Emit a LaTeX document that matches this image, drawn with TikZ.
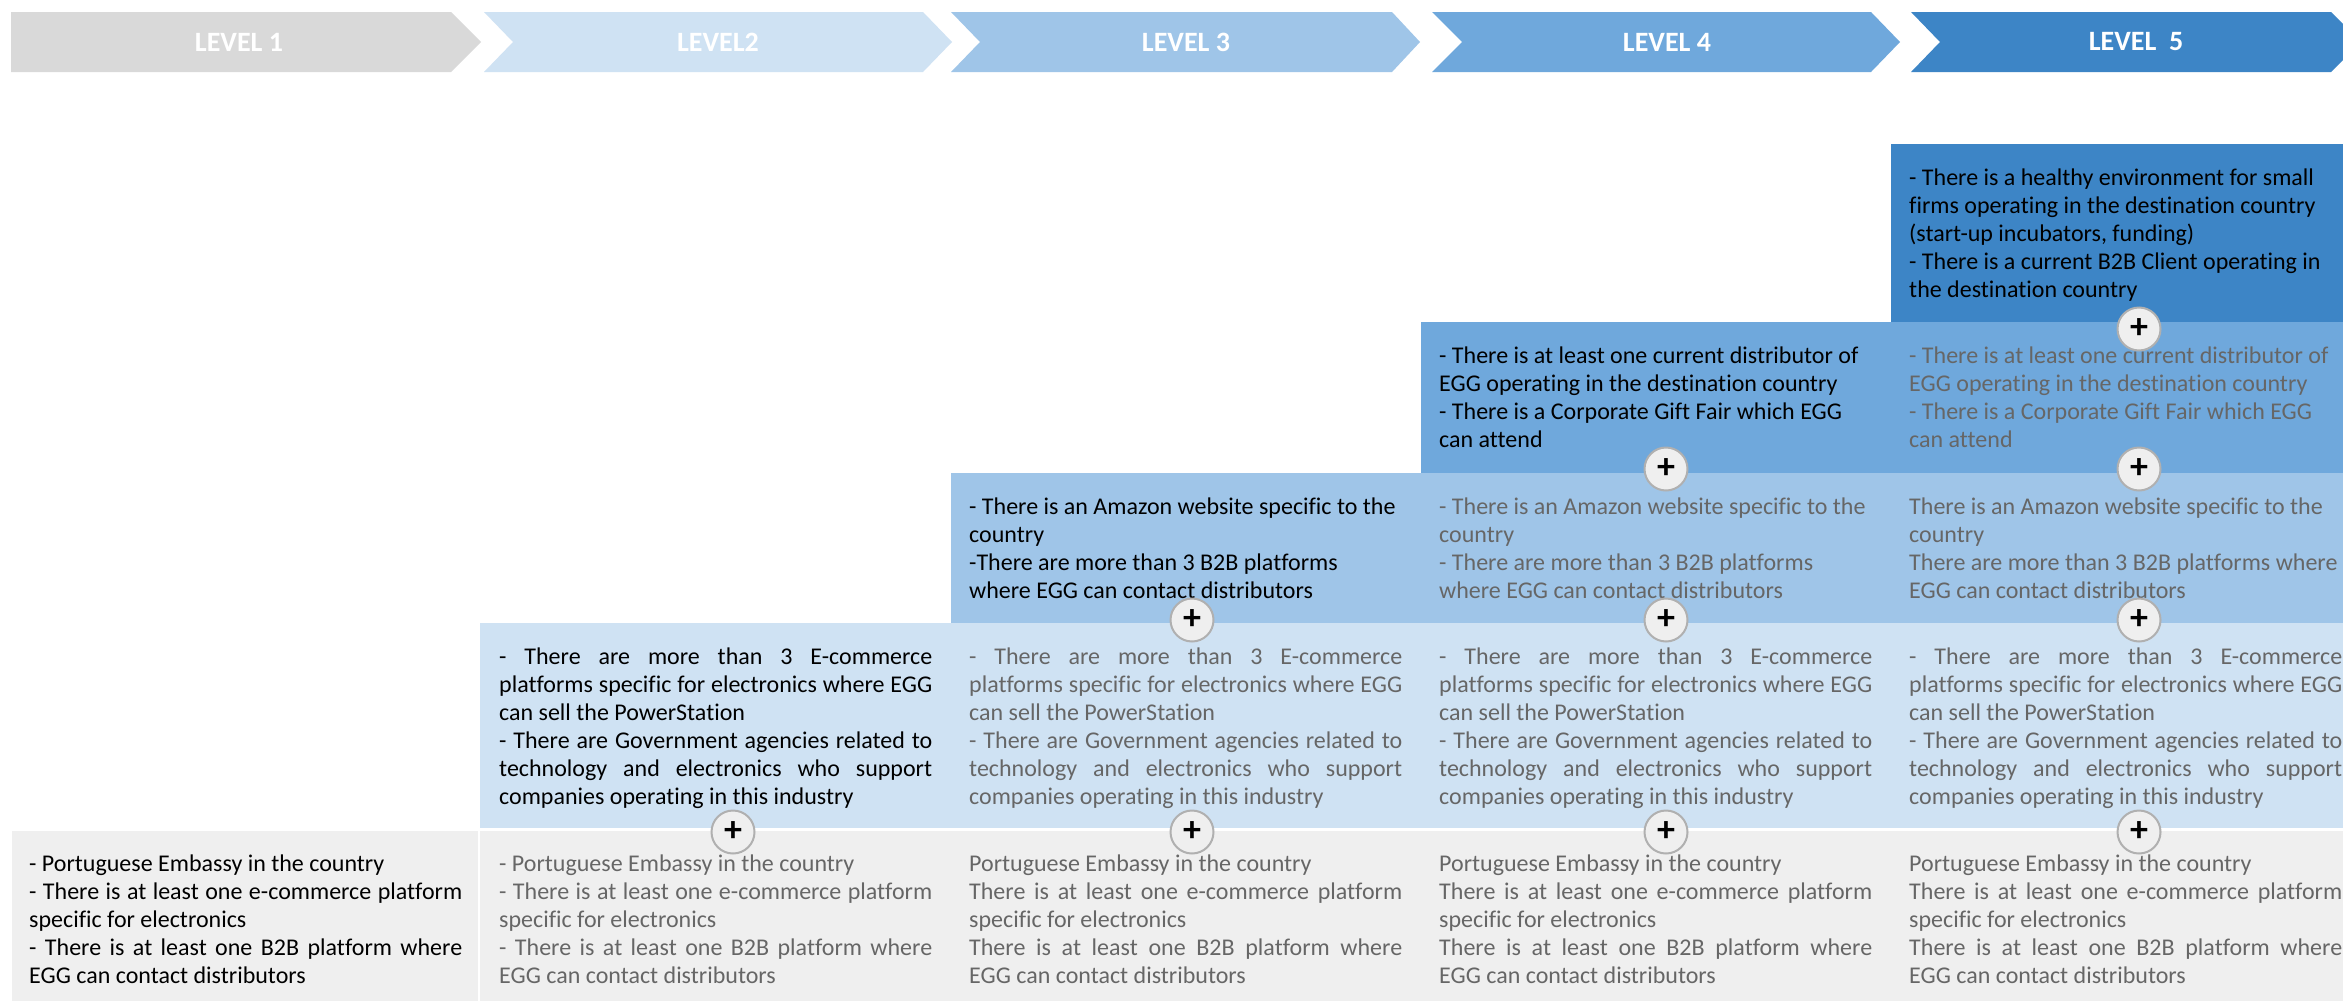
\documentclass[tikz,border=0pt]{standalone}
\usepackage{fontspec}
\setmainfont{Carlito}[Ligatures=NoCommon]
\definecolor{lvone}{HTML}{D9D9D9}
\definecolor{lvtwo}{HTML}{CFE2F3}
\definecolor{lvthree}{HTML}{9FC5E8}
\definecolor{lvfour}{HTML}{6FA8DC}
\definecolor{lvfive}{HTML}{3D85C6}
\definecolor{rowgray}{HTML}{EFEFEF}
\definecolor{txtgray}{HTML}{666666}
\definecolor{ringgray}{HTML}{B0B0B0}
\newcommand\jl[1]{{\spaceskip=0pt\xspaceskip=0pt\makebox[433pt][s]{#1}}}
\begin{document}
\begin{tikzpicture}[x=1pt,y=-1pt,
  hdr/.style={font=\fontsize{28}{30}\selectfont\bfseries, text=white, inner sep=0pt},
  body/.style={anchor=base west, inner sep=0pt, text width=433pt, align=left,
    font=\fontsize{24}{28}\selectfont,
    execute at begin node={\spaceskip=0pt\xspaceskip=0pt\relax}},
  cur/.style={body, text=black},
  old/.style={body, text=txtgray},
  plus/.style={circle, minimum size=43pt, inner sep=0pt, fill=rowgray, draw=ringgray, line width=2pt, font=\fontsize{36}{36}\selectfont\bfseries}
]
\useasboundingbox (0,0) rectangle (2343,1001);
\clip (0,0) rectangle (2343,1001);
\fill[white] (0,0) rectangle (2343,1001);

% header chevrons
\fill[lvone] (11,12) -- (451,12) -- (481,42) -- (451,72) -- (11,72) -- cycle;
\fill[lvtwo] (484,12) -- (923,12) -- (952,42) -- (923,72) -- (484,72) -- (513,42) -- cycle;
\fill[lvthree] (951,12) -- (1392,12) -- (1420,42) -- (1392,72) -- (951,72) -- (980,42) -- cycle;
\fill[lvfour] (1432,12) -- (1871,12) -- (1900,42) -- (1871,72) -- (1432,72) -- (1462,42) -- cycle;
\fill[lvfive] (1911,12) -- (2331,12) -- (2361,42) -- (2331,72) -- (1911,72) -- (1940,42) -- cycle;
\node[hdr] (h1) at (239,42) {LEVEL 1};
\node[hdr] (h2) at (718,42) {LEVEL2};
\node[hdr] (h3) at (1186,42) {LEVEL 3};
\node[hdr] (h4) at (1667,42) {LEVEL 4};
\node[hdr] (h5) at (2136,42) {LEVEL\ \ 5};

% stair boxes
\fill[rowgray] (12,831) rectangle (478,1001);
\fill[rowgray] (480,831) rectangle (2343,1001);
\fill[lvtwo] (480,623) rectangle (2343,828);
\fill[lvthree] (951,473) rectangle (2343,623);
\fill[lvfour] (1421,322) rectangle (2343,473);
\fill[lvfive] (1891,144) rectangle (2343,322);

% row 1 (level 1 conditions)
\node[cur] (r1c1) at (29,871) {- Portuguese Embassy in the country\\
\jl{- There is at least one e-commerce platform}\\
specific for electronics\\
\jl{- There is at least one B2B platform where}\\
EGG can contact distributors};
\node[old] (r1c2) at (499,871) {- Portuguese Embassy in the country\\
\jl{- There is at least one e-commerce platform}\\
specific for electronics\\
\jl{- There is at least one B2B platform where}\\
EGG can contact distributors};
\node[old] (r1c3) at (969,871) {Portuguese Embassy in the country\\
\jl{There is at least one e-commerce platform}\\
specific for electronics\\
\jl{There is at least one B2B platform where}\\
EGG can contact distributors};
\node[old] (r1c4) at (1439,871) {Portuguese Embassy in the country\\
\jl{There is at least one e-commerce platform}\\
specific for electronics\\
\jl{There is at least one B2B platform where}\\
EGG can contact distributors};
\node[old] (r1c5) at (1909,871) {Portuguese Embassy in the country\\
\jl{There is at least one e-commerce platform}\\
specific for electronics\\
\jl{There is at least one B2B platform where}\\
EGG can contact distributors};

% row 2 (level 2 conditions)
\node[cur] (r2c2) at (499,664) {\jl{- There are more than 3 E-commerce}\\
\jl{platforms specific for electronics where EGG}\\
can sell the PowerStation\\
\jl{- There are Government agencies related to}\\
\jl{technology and electronics who support}\\
companies operating in this industry};
\node[old] (r2c3) at (969,664) {\jl{- There are more than 3 E-commerce}\\
\jl{platforms specific for electronics where EGG}\\
can sell the PowerStation\\
\jl{- There are Government agencies related to}\\
\jl{technology and electronics who support}\\
companies operating in this industry};
\node[old] (r2c4) at (1439,664) {\jl{- There are more than 3 E-commerce}\\
\jl{platforms specific for electronics where EGG}\\
can sell the PowerStation\\
\jl{- There are Government agencies related to}\\
\jl{technology and electronics who support}\\
companies operating in this industry};
\node[old] (r2c5) at (1909,664) {\jl{- There are more than 3 E-commerce}\\
\jl{platforms specific for electronics where EGG}\\
can sell the PowerStation\\
\jl{- There are Government agencies related to}\\
\jl{technology and electronics who support}\\
companies operating in this industry};

% row 3 (level 3 conditions)
\node[cur] (r3c3) at (969,514) {- There is an Amazon website specific to the\\
country\\
-There are more than 3 B2B platforms\\
where EGG can contact distributors};
\node[old] (r3c4) at (1439,514) {- There is an Amazon website specific to the\\
country\\
- There are more than 3 B2B platforms\\
where EGG can contact distributors};
\node[old] (r3c5) at (1909,514) {There is an Amazon website specific to the\\
country\\
There are more than 3 B2B platforms where\\
EGG can contact distributors};

% row 4 (level 4 conditions)
\node[cur] (r4c4) at (1439,363) {- There is at least one current distributor of\\
EGG operating in the destination country\\
- There is a Corporate Gift Fair which EGG\\
can attend};
\node[old] (r4c5) at (1909,363) {- There is at least one current distributor of\\
EGG operating in the destination country\\
- There is a Corporate Gift Fair which EGG\\
can attend};

% row 5 (level 5 conditions)
\node[cur] (r5c5) at (1909,185) {- There is a healthy environment for small\\
firms operating in the destination country\\
(start-up incubators, funding)\\
- There is a current B2B Client operating in\\
the destination country};

% plus markers
\node[plus] (p2a) at (733,832) {+};
\node[plus] (p3a) at (1192,832) {+};
\node[plus] (p3b) at (1192,620) {+};
\node[plus] (p4a) at (1666,832) {+};
\node[plus] (p4b) at (1666,620) {+};
\node[plus] (p4c) at (1666,469) {+};
\node[plus] (p5a) at (2139,832) {+};
\node[plus] (p5b) at (2139,620) {+};
\node[plus] (p5c) at (2139,469) {+};
\node[plus] (p5d) at (2139,329) {+};
\end{tikzpicture}
\end{document}
